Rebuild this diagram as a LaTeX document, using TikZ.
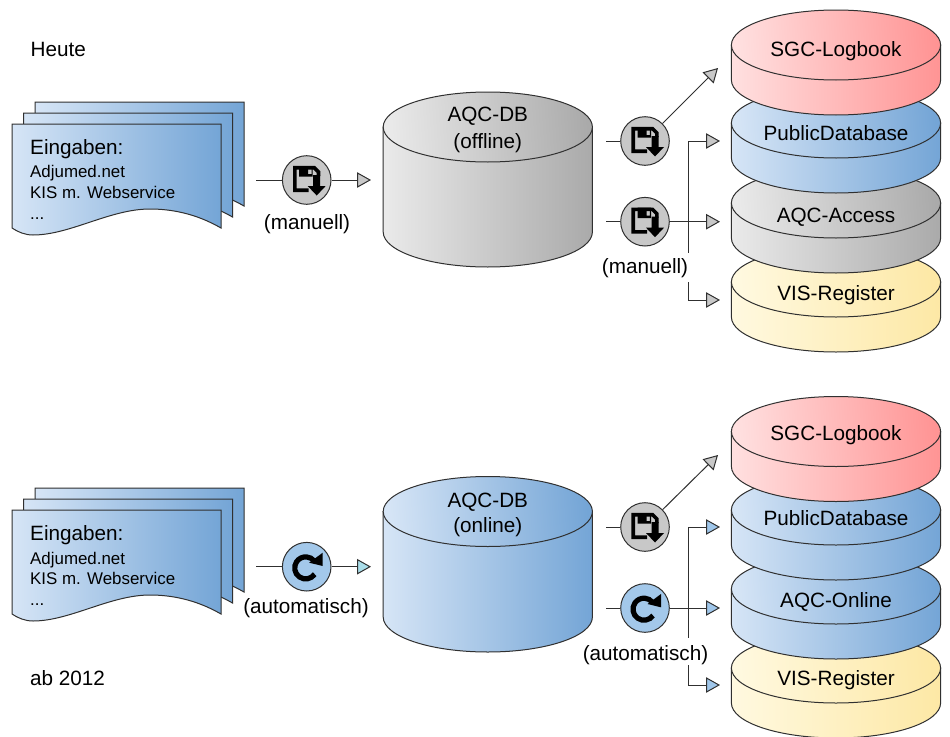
\documentclass[tikz,border=0pt]{standalone}
\usepackage{fontspec}
\setmainfont{Liberation Sans}
\usetikzlibrary{arrows.meta}
\definecolor{blueL}{HTML}{D6E5F6}\definecolor{blueR}{HTML}{74A5D6}
\definecolor{grayL}{HTML}{EAEAEA}\definecolor{grayR}{HTML}{AAAAAA}
\definecolor{redL}{HTML}{FFE0E0}\definecolor{redR}{HTML}{FF9494}
\definecolor{yelL}{HTML}{FFF9E0}\definecolor{yelR}{HTML}{FDE8A5}
\definecolor{ink}{HTML}{303030}
\definecolor{tipgray}{HTML}{C8C8C8}\definecolor{tipblue}{HTML}{9FC6EA}\definecolor{tipcyan}{HTML}{A9DDE9}
\definecolor{discblue}{HTML}{A3C8EA}
\tikzset{
  x=1pt,y=-1pt,
  big/.style={font=\fontsize{20.7}{24}\selectfont,text=black,inner sep=0pt,anchor=base},
  small/.style={font=\fontsize{16.9}{20}\selectfont,text=black,inner sep=0pt,anchor=base west},
  line/.style={draw=ink,line width=1pt},
  arrgray/.style={line,-{Triangle[length=14pt,width=15.5pt,fill=tipgray]}},
  arrblue/.style={line,-{Triangle[length=14pt,width=15.5pt,fill=tipblue]}},
  arrcyan/.style={line,-{Triangle[length=14pt,width=15.5pt,fill=tipcyan]}},
  disc/.style={circle,draw=ink,line width=1pt,minimum size=48.6pt,inner sep=0pt},
  discgray/.style={disc,fill=tipgray},
  discblue/.style={disc,fill=discblue},
  gap/.style={big,fill=white,inner xsep=1pt},
  floppy/.pic={
    \draw[black,line width=3.6pt,line join=miter] (2,10.2) -- (-11.8,10.2) -- (-11.8,-12.3) -- (7.5,-12.3) -- (11.8,-8) -- (11.8,-4);
    \fill[black,even odd rule] (-7.5,-14) rectangle (6,-3.5) (1.5,-12) rectangle (4.8,-6);
    \fill[black] (6.5,-5) -- (13.5,-5) -- (13.5,6) -- (19,6) -- (10,15.5) -- (1,6) -- (6.5,6) -- cycle;
  },
  refresh/.pic={
    \draw[black,line width=5.2pt] (8,7.5) arc[start angle=-35,end angle=-320,radius=11pt];
    \fill[black] (16,-14) -- (16,-0.7) -- (2.5,-4) -- cycle;
  }
}
% centre x, top centre y, bottom centre y, colours, name, text, baseline
\newcommand{\dbdisk}[7]{%
  \shade[draw=ink,line width=1pt,left color=#4L,right color=#4R]
    (#1-104.6,#2) -- (#1-104.6,#3) arc[start angle=180,end angle=360,x radius=104.6pt,y radius=35pt] -- (#1+104.6,#2) -- cycle;
  \shade[draw=ink,line width=1pt,left color=#4L,right color=#4R,shading angle=94]
    (#1,#2) ellipse [x radius=104.6pt,y radius=35pt];
  \node[big] (#5) at (#1,#7) {#6};
}
\newcommand{\sheet}[3]{%
  \shade[draw=ink,line width=1pt,left color=blueL,right color=blueR]
    (#1,#2) -- (#1+209,#2) -- (#1+209,#2+104)
    .. controls (#1+183,#2+89) and (#1+158,#2+85) .. (#1+138,#2+85)
    .. controls (#1+98,#2+85) and (#1+58,#2+111) .. (#1+21,#2+111)
    .. controls (#1+13,#2+111) and (#1+6,#2+108) .. (#1,#2+104) -- cycle;
}
\begin{document}
\begin{tikzpicture}
\useasboundingbox[fill=white] (0,0) rectangle (950,736);
% ---- top half
\node[big,anchor=base west] (heute) at (30.5,56) {Heute};
\sheet{35}{102}{}\sheet{23.5}{113}{}\sheet{12}{124}{}
\node[big,anchor=base west] (e1) at (30,154) {Eingaben:};
\node[small] (e2) at (30,177.5) {Adjumed.net};
\node[small] (e3) at (30,198.2) {KIS m. Webservice};
\node[small] (e4) at (30,219) {...};
\coordinate (a0) at (256,180);
\coordinate (a1) at (371,180);
\node[discgray] (c1) at (306.7,180) {};
\draw[line] (a0) -- (c1);
\draw[arrgray] (c1) -- (a1);
\pic at (c1) {floppy};
\node[big] (l1) at (307,229) {(manuell)};

\dbdisk{487.8}{127}{232}{gray}{db1a}{AQC-DB}{121.7}
\node[big] (db1b) at (487.8,148) {(offline)};

\dbdisk{836}{282}{317}{yel}{t4}{VIS-Register}{300}
\dbdisk{836}{203}{238}{gray}{t3}{AQC-Access}{222.5}
\dbdisk{836}{123}{158}{blue}{t2}{PublicDatabase}{140.3}
\dbdisk{836}{45}{80}{red}{t1}{SGC-Logbook}{56}

\coordinate (b0) at (606,141);
\coordinate (b1) at (718,68);
\coordinate (b2) at (606,221.7);
\coordinate (b3) at (720,221.7);
\coordinate (j1) at (688.3,221.7);
\coordinate (b4) at (720,141);
\coordinate (b5) at (720,300);
\node[discgray] (c2) at (645,141) {};
\node[discgray] (c3) at (645,221.7) {};
\draw[line] (b0) -- (c2);
\draw[line] (b2) -- (c3);
\draw[arrgray] (c2) -- (b1);
\draw[arrgray] (c3) -- (b3);
\draw[arrgray] (j1) |- (b4);
\draw[arrgray] (j1) |- (b5);
\pic at (c2) {floppy};
\pic at (c3) {floppy};
\node[gap,text height=20pt,text depth=8.7pt] (l2) at (645,273) {(manuell)};

% ---- bottom half
\sheet{35}{488}{}\sheet{23.5}{499}{}\sheet{12}{510}{}
\node[big,anchor=base west] (f1) at (30,540) {Eingaben:};
\node[small] (f2) at (30,564.6) {Adjumed.net};
\node[small] (f3) at (30,584.8) {KIS m. Webservice};
\node[small] (f4) at (30,605) {...};
\coordinate (d0) at (256,566.7);
\coordinate (d1) at (371,566.7);
\node[discblue] (c4) at (306.7,566.7) {};
\draw[line] (d0) -- (c4);
\draw[arrcyan] (c4) -- (d1);
\pic at (c4) {refresh};
\node[big] (l3) at (306,613) {(automatisch)};
\node[big,anchor=base west] (ab) at (30,685) {ab 2012};

\dbdisk{487.8}{511.5}{617}{blue}{db2a}{AQC-DB}{507.3}
\node[big] (db2b) at (487.8,532.7) {(online)};

\dbdisk{836}{668}{703}{yel}{u4}{VIS-Register}{685}
\dbdisk{836}{589}{624}{blue}{u3}{AQC-Online}{607.5}
\dbdisk{836}{510}{545}{blue}{u2}{PublicDatabase}{525}
\dbdisk{836}{431.5}{466.5}{red}{u1}{SGC-Logbook}{440}

\coordinate (g0) at (606,527);
\coordinate (g1) at (718,455);
\coordinate (g2) at (606,608);
\coordinate (g3) at (720,608);
\coordinate (j2) at (688.3,608);
\coordinate (g4) at (720,527);
\coordinate (g5) at (720,685);
\node[discgray] (c5) at (645,527) {};
\node[discblue] (c6) at (645,608) {};
\draw[line] (g0) -- (c5);
\draw[line] (g2) -- (c6);
\draw[arrgray] (c5) -- (g1);
\draw[arrblue] (c6) -- (g3);
\draw[arrblue] (j2) |- (g4);
\draw[arrblue] (j2) |- (g5);
\pic at (c5) {floppy};
\pic at (c6) {refresh};
\node[gap,text height=22.7pt,text depth=4.3pt] (l4) at (645.5,660.7) {(automatisch)};
\end{tikzpicture}
\end{document}
